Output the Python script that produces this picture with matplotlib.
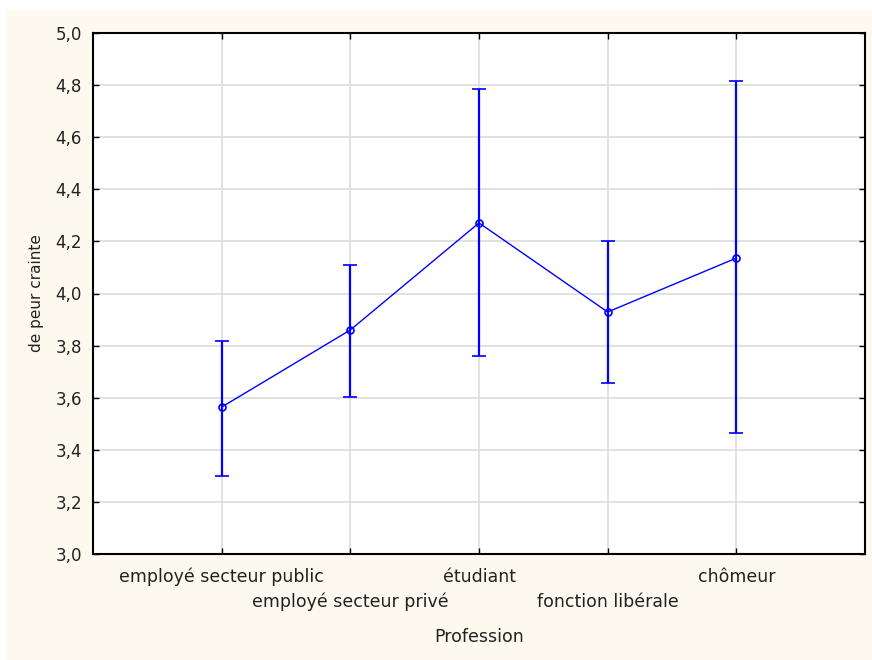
import matplotlib.pyplot as plt
from matplotlib.patches import Rectangle
from matplotlib.ticker import FuncFormatter

# donnees
professions = ['employé secteur public', 'employé secteur privé', 'étudiant',
               'fonction libérale', 'chômeur']
moyennes = [3.564, 3.860, 4.271, 3.929, 4.136]
haut = [3.818, 4.109, 4.785, 4.200, 4.816]
bas = [3.300, 3.603, 3.760, 3.656, 3.464]

x = list(range(1, len(professions) + 1))
err_bas = [m - b for m, b in zip(moyennes, bas)]
err_haut = [h - m for m, h in zip(moyennes, haut)]

fig = plt.figure(figsize=(8.72, 6.6), dpi=100, facecolor='white')
fig.patches.append(Rectangle((7 / 872, 0), 1, 1 - 10 / 660, transform=fig.transFigure,
                             facecolor='#fdf9ef', edgecolor='none', zorder=-10))
ax = fig.add_axes([93 / 872, 1 - 554 / 660, 772 / 872, 521 / 660])
ax.set_facecolor('white')

ax.errorbar(x, moyennes, yerr=[err_bas, err_haut], color='#0000ff', lw=1,
            elinewidth=1.6, capsize=5, capthick=1.6, marker='o', ms=5,
            mfc='none', mec='#0000ff', mew=1.2, zorder=3)

ax.set_xlim(0, 6)
ax.set_ylim(3.0, 5.0)
ax.set_yticks([3.0 + 0.2 * i for i in range(11)])
ax.yaxis.set_major_formatter(FuncFormatter(lambda v, p: ('%.1f' % v).replace('.', ',')))
ax.set_xticks(x)
ax.set_xticklabels(professions, fontsize=12.5, color='#222222')

ax.grid(True, color='#dcdcdc', lw=1.2)
ax.set_axisbelow(True)
ax.tick_params(direction='in', length=4, width=1, top=True, right=True)
ax.tick_params(axis='y', labelsize=12, labelcolor='#222222', pad=8)
ax.tick_params(axis='x', pad=10)
for i, t in enumerate(ax.xaxis.get_major_ticks()):
    if i % 2 == 1:
        t.set_pad(28)
for s in ax.spines.values():
    s.set_linewidth(1.5)
    s.set_color('black')

ax.set_ylabel('de peur crainte', fontsize=11, labelpad=8, color='#222222')
ax.set_xlabel('Profession', fontsize=12.5, labelpad=12, color='#222222')

plt.savefig('out.png', dpi=100, facecolor=fig.get_facecolor())
